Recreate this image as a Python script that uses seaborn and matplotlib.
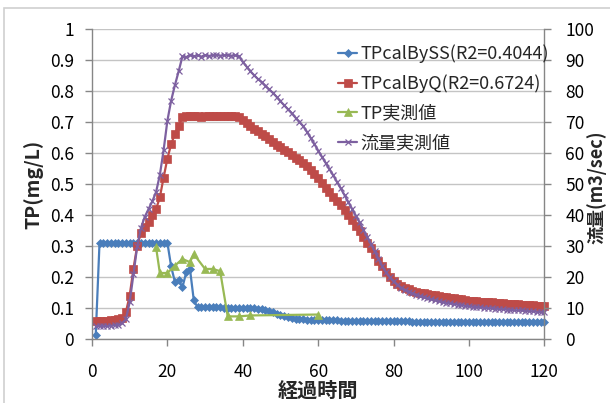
import numpy as np
import pandas as pd
import matplotlib
matplotlib.use("Agg")
import matplotlib.pyplot as plt
import seaborn as sns
from matplotlib.patches import Rectangle

# ---------------- data ----------------
hours = list(range(1, 121))

tp_by_ss = ([0.015] + [0.312] * 19 +
            [0.235, 0.185, 0.192, 0.168, 0.216, 0.226, 0.127, 0.103] +
            [0.103, 0.103, 0.103, 0.103, 0.103, 0.103, 0.102, 0.102, 0.102, 0.102,
             0.101, 0.101, 0.101, 0.100, 0.100] +
            [0.099, 0.097, 0.094, 0.091, 0.087, 0.083, 0.079, 0.075, 0.071, 0.068,
             0.066, 0.065, 0.064, 0.063, 0.063, 0.062, 0.062] +
            [0.062, 0.061, 0.061, 0.061, 0.061, 0.060, 0.060, 0.060, 0.060, 0.060,
             0.059, 0.059, 0.059, 0.059, 0.059, 0.059, 0.058, 0.058, 0.058, 0.058,
             0.058, 0.058, 0.058, 0.058, 0.057, 0.057, 0.057, 0.057, 0.057, 0.057,
             0.057, 0.057, 0.057, 0.057, 0.057, 0.057, 0.057, 0.057, 0.057, 0.057,
             0.057, 0.057, 0.056, 0.056, 0.056, 0.056, 0.056, 0.056, 0.056, 0.056,
             0.056, 0.056, 0.056, 0.056, 0.056, 0.056, 0.056, 0.056, 0.056, 0.056])

tp_by_q = [0.060, 0.060, 0.060, 0.060, 0.061, 0.062, 0.064, 0.068, 0.088, 0.141,
           0.228, 0.302, 0.343, 0.362, 0.380, 0.400, 0.420, 0.458, 0.522, 0.583,
           0.629, 0.663, 0.688, 0.717, 0.721, 0.719, 0.722, 0.720, 0.718, 0.721,
           0.720, 0.719, 0.722, 0.721, 0.720, 0.722, 0.721, 0.720, 0.716, 0.707,
           0.698, 0.689, 0.680, 0.671, 0.663, 0.655, 0.645, 0.636, 0.628, 0.620,
           0.612, 0.604, 0.595, 0.586, 0.577, 0.568, 0.558, 0.546, 0.533, 0.519,
           0.504, 0.489, 0.474, 0.460, 0.446, 0.432, 0.418, 0.402, 0.385, 0.367,
           0.349, 0.330, 0.311, 0.294, 0.275, 0.254, 0.235, 0.216, 0.200, 0.188,
           0.179, 0.172, 0.166, 0.161, 0.157, 0.154, 0.151, 0.148, 0.146, 0.144,
           0.142, 0.140, 0.138, 0.136, 0.134, 0.132, 0.131, 0.129, 0.127, 0.125,
           0.124, 0.123, 0.122, 0.121, 0.120, 0.119, 0.118, 0.117, 0.116, 0.115,
           0.114, 0.113, 0.113, 0.112, 0.111, 0.110, 0.110, 0.109, 0.108, 0.107]

flow = [4.3, 4.3, 4.3, 4.3, 4.4, 4.5, 4.7, 5.2, 6.5, 12.0,
        21.0, 30.0, 36.0, 39.5, 42.0, 44.5, 47.5, 53.0, 61.0, 70.5,
        77.0, 82.0, 86.5, 91.3, 91.0, 91.8, 91.3, 91.6, 91.2, 91.7,
        91.4, 91.6, 91.8, 91.5, 91.6, 91.7, 91.5, 91.6, 91.3, 89.5,
        88.0, 86.5, 85.2, 84.0, 83.0, 81.8, 80.6, 79.5, 78.2, 76.8,
        75.5, 74.2, 72.9, 71.5, 70.2, 68.8, 67.0, 65.0, 63.0, 60.9,
        58.9, 56.9, 54.9, 52.9, 50.8, 48.7, 46.5, 44.3, 42.1, 39.9,
        37.7, 35.4, 33.0, 30.8, 28.4, 26.0, 23.6, 21.6, 20.0, 18.7,
        17.6, 16.7, 16.0, 15.4, 14.9, 14.4, 14.0, 13.6, 13.2, 12.9,
        12.6, 12.3, 12.0, 11.8, 11.6, 11.4, 11.2, 11.0, 10.8, 10.6,
        10.5, 10.4, 10.3, 10.2, 10.1, 10.0, 9.9, 9.8, 9.7, 9.6,
        9.5, 9.4, 9.3, 9.3, 9.2, 9.1, 9.0, 8.9, 8.8, 8.7]

obs_hours = [17, 18, 20, 22, 24, 26, 27, 30, 32, 34, 36, 39, 42, 60]
tp_obs = [0.297, 0.214, 0.214, 0.238, 0.259, 0.249, 0.275, 0.227, 0.227, 0.220,
          0.074, 0.074, 0.077, 0.080]

labels = ["TPcalBySS(R2=0.4044)", "TPcalByQ(R2=0.6724)", "TP実測値", "流量実測値"]
x_ticks = [0, 20, 40, 60, 80, 100, 120]
y_ticks = [0, 0.1, 0.2, 0.3, 0.4, 0.5, 0.6, 0.7, 0.8, 0.9, 1.0]
y_ticklabels = ["0", "0.1", "0.2", "0.3", "0.4", "0.5", "0.6", "0.7", "0.8", "0.9", "1"]
y2_ticks = [0, 10, 20, 30, 40, 50, 60, 70, 80, 90, 100]

df = pd.DataFrame({"hour": hours, "ss": tp_by_ss, "q": tp_by_q, "flow": flow})
dfo = pd.DataFrame({"hour": obs_hours, "tp": tp_obs})

# ---------------- style ----------------
sns.set_style("white")
plt.rcParams["font.family"] = ["Noto Sans CJK JP", "DejaVu Sans"]

c_blue, c_red, c_green, c_purple = "#4A7EBB", "#BE4B48", "#98B954", "#7D60A0"
spine_c = "#868686"
grid_c = "#C4C4C4"

fig = plt.figure(figsize=(6.1, 4.03), dpi=100)
ax = fig.add_axes([0.1508, 0.158, 0.7415, 0.7692])
ax2 = ax.twinx()

sns.lineplot(data=df, x="hour", y="ss", ax=ax, color=c_blue, marker="D",
             markersize=4, markeredgecolor=c_blue, markeredgewidth=0.5,
             linewidth=1.6, label=labels[0], clip_on=False)
sns.lineplot(data=df, x="hour", y="q", ax=ax, color=c_red, marker="s",
             markersize=5.5, markeredgecolor=c_red, markeredgewidth=0.5,
             linewidth=1.6, label=labels[1], clip_on=False)
sns.lineplot(data=dfo, x="hour", y="tp", ax=ax, color=c_green, marker="^",
             markersize=6, markeredgecolor=c_green, markeredgewidth=0.5,
             linewidth=1.6, label=labels[2], clip_on=False)
sns.lineplot(data=df, x="hour", y="flow", ax=ax2, color=c_purple, marker="x",
             markersize=4, markeredgecolor=c_purple, markeredgewidth=0.9,
             linewidth=1.6, label=labels[3], clip_on=False)

ax.set_xlim(0, 120)
ax.set_ylim(0, 1)
ax2.set_ylim(0, 100)
ax.set_xticks(x_ticks)
ax.set_xticklabels([str(t) for t in x_ticks])
ax.set_yticks(y_ticks)
ax.set_yticklabels(y_ticklabels)
ax2.set_yticks(y2_ticks)
ax2.set_yticklabels([str(t) for t in y2_ticks])

ax.yaxis.grid(True, color=grid_c, linewidth=1.0)
ax.xaxis.grid(False)
ax.set_axisbelow(True)

for a in (ax, ax2):
    a.spines["top"].set_visible(False)
    for s in ("left", "right", "bottom"):
        a.spines[s].set_color(spine_c)
        a.spines[s].set_linewidth(1.0)
ax.spines["right"].set_visible(False)
ax2.spines["left"].set_visible(False)
ax2.spines["bottom"].set_visible(False)

tick_fs = 12.5
ax.tick_params(axis="both", which="both", direction="out", length=5, width=1,
               color=spine_c, labelsize=tick_fs, labelcolor="black")
ax.tick_params(axis="y", left=True, pad=8)
ax.tick_params(axis="x", bottom=True, pad=12)
ax2.tick_params(axis="y", right=True, direction="out", length=5, width=1,
                color=spine_c, labelsize=tick_fs, labelcolor="black", pad=10)

ax.set_xlabel("経過時間", fontsize=14.5, fontweight="bold")
ax.set_ylabel("TP(mg/L)", fontsize=14, fontweight="bold")
ax2.set_ylabel("流量(m3/sec)", fontsize=13, fontweight="bold")
ax.xaxis.set_label_coords(0.5, -0.130)
ax.yaxis.set_label_coords(-0.108, 0.5)
ax2.yaxis.set_label_coords(1.093, 0.49)

h1, l1 = ax.get_legend_handles_labels()
h2, l2 = ax2.get_legend_handles_labels()
if ax.get_legend() is not None:
    ax.get_legend().remove()
if ax2.get_legend() is not None:
    ax2.get_legend().remove()
leg = ax2.legend(h1 + h2, l1 + l2, loc="upper left", bbox_to_anchor=(0.545, 0.952),
                 frameon=False, fontsize=13, handlelength=1.0, handletextpad=0.2,
                 labelspacing=0.64, borderpad=0, borderaxespad=0)

# outer chart-area border
fig.patches.append(Rectangle((4 / 610, -0.2), 2.0, 1.2 - 7.5 / 403, transform=fig.transFigure,
                             fill=False, edgecolor="#D0D0D0", linewidth=1.2))

fig.savefig("out.png", dpi=100)
